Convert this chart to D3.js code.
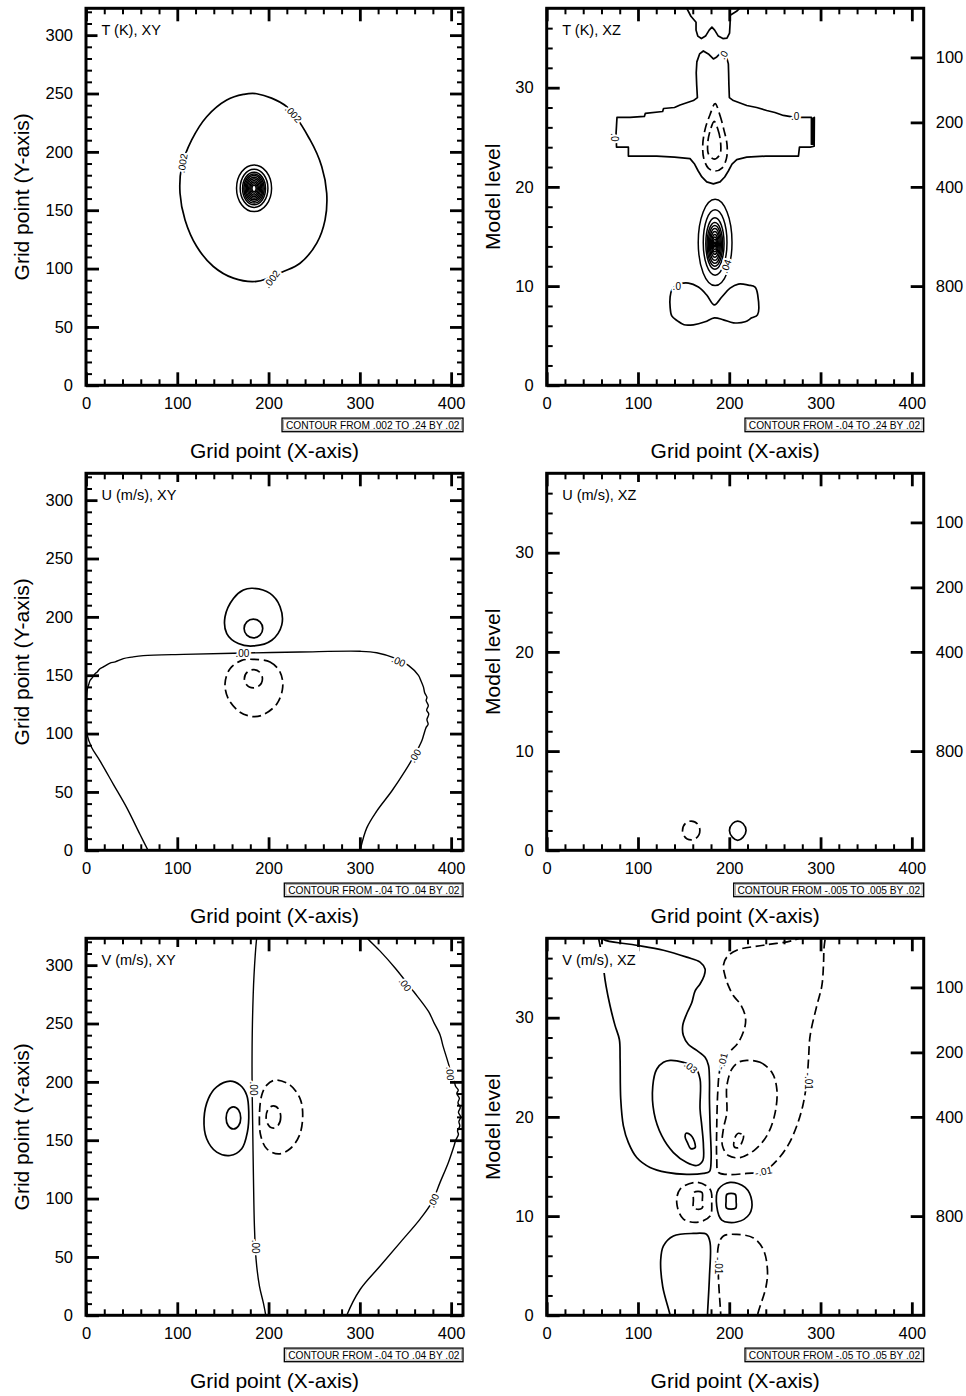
<!DOCTYPE html>
<html>
<head>
<meta charset="utf-8">
<script src="https://cdn.jsdelivr.net/npm/d3@7"></script>
<style>
  body { margin: 0; background: #fff; }
  svg { display: block; }
</style>
</head>
<body>
<svg id="chart" width="966" height="1396"></svg>
<script>
// ---------- axis ticks and labels ----------
const xMajorTicks = [0, 100, 200, 300, 400];
const yMajorTicksXY = [0, 50, 100, 150, 200, 250, 300];
const levelMajorTicks = [0, 10, 20, 30];
const pressureLabels = [100, 200, 400, 800];
const pressureLevels = [33.05, 26.5, 20, 10];

const panelTitles = ["T (K), XY", "T (K), XZ", "U (m/s), XY", "U (m/s), XZ", "V (m/s), XY", "V (m/s), XZ"];
const infoLabels = [
  "CONTOUR FROM .002 TO .24 BY .02",
  "CONTOUR FROM -.04 TO .24 BY .02",
  "CONTOUR FROM -.04 TO .04 BY .02",
  "CONTOUR FROM -.005 TO .005 BY .02",
  "CONTOUR FROM -.04 TO .04 BY .02",
  "CONTOUR FROM -.05 TO .05 BY .02"
];

// ---------- T (K), XY ----------
const tXY_c002 = [[187.0,249.8],[219.9,238.7],[245.5,210.2],[258.3,187.3],[263.7,164.5],[261.9,141.7],[252.8,121.8],[234.5,104.6],[216.3,97.5],[187.0,89.0],[161.5,91.8],[139.5,101.8],[121.3,118.9],[108.5,141.7],[103.0,164.5],[104.8,187.3],[115.8,210.2],[132.2,230.1],[154.2,244.4],[172.4,249.2]];
// [centre x, centre y, radius x, radius y] for .022 ... .222
const tXY_rings = [[184.1,168.8,19.2,20.0],[184.1,168.8,15.2,16.4],[184.1,168.6,12.6,14.0],[184.1,168.6,11.2,12.5],[184.1,168.6,9.9,11.1],[184.1,168.6,8.6,9.7],[184.1,168.6,7.3,8.3],[184.1,168.6,6.0,6.9],[184.1,168.6,4.7,5.5],[184.1,168.6,3.5,4.1],[184.1,168.6,2.3,2.7]];
const tXY_labels = [[227.2,232.4,48,".002"],[105.9,190.2,-80,".002"],[203.5,91.0,-52,".002"]];

// ---------- T (K), XZ ----------
const tXZ_top = [[150,38.6],[158,37.2],[163.6,36.6],[163.6,35.8],[165.5,35.2],[169.5,34.95],[174,35.2],[178,35.8],[181,36.1],[184,35.8],[188,35.2],[193,34.95],[197.5,35.0],[200.3,35.5],[200.9,36.5],[201,37.3],[208,37.7],[217,38.5]];
const tXZ_zero = [[182.6,32.9],[177.1,33.4],[171.6,33.7],[167.5,33.4],[164.5,32.6],[163.8,31.5],[164.3,30.3],[165.1,29.0],[160.7,28.7],[146.1,28.25],[140,28.0],[128,27.9],[127,27.6],[108,27.4],[107,27.1],[91.3,27.0],[77,27.0],[76.5,26.2],[76,25.4],[76.3,24.6],[76.5,24.0],[89.5,24.0],[89.5,23.1],[120.5,23.1],[140,23.0],[157,22.85],[162,22.3],[166,21.6],[170,21.0],[175.3,20.5],[182.6,20.3],[189.9,20.5],[195,21.0],[199,21.6],[203,22.3],[208.2,22.75],[219.2,23.0],[240,23.1],[275.8,23.1],[276.9,24.0],[288.6,24.0],[293,24.1],[293.2,27.0],[291.5,26.9],[291.5,24.3],[290,24.3],[290,27.0],[285,27.0],[272,27.0],[259.3,27.2],[250,27.5],[241,27.7],[230,28.0],[219.2,28.2],[204.5,28.7],[200.1,29.0],[199.6,30.3],[199.3,31.5],[199,32.4],[197,33.1],[195.4,33.5],[191.8,33.6],[188.5,33.3],[186.3,33.1]];
const tXZ_negOuter = [[184.5,28.4],[189.5,27.3],[194,25.8],[197.5,24.3],[197,22.9],[192,21.9],[184.5,21.6],[177,21.9],[172,22.9],[171,24.3],[173.5,25.8],[179,27.3]];
const tXZ_negInner = [[183.5,26.6],[187.5,25.8],[190.5,24.5],[189.8,23.3],[183.5,22.8],[177.3,23.3],[176.5,24.5],[179.5,25.8]];
const tXZ_rings = [[184.5,14.4,18.5,4.35],[184.5,14.4,13.0,3.3],[184.3,14.3,10.0,2.6],[184.2,14.2,8.5,2.2],[184.2,14.2,7.2,1.9],[184.2,14.2,6.0,1.6],[184.2,14.2,4.9,1.3],[184.2,14.2,3.8,1.0],[184.2,14.2,2.8,0.75],[184.2,14.2,1.8,0.5],[184.2,14.2,0.9,0.25]];
const tXZ_lower = [[137,9.6],[142.5,10.1],[155.3,10.3],[166.2,9.9],[175.3,9.1],[183.7,8.1],[191.8,8.9],[200.9,9.8],[210,10.2],[221,10.1],[228.3,9.9],[231.2,9.1],[230.9,7.1],[224.7,6.8],[217.4,6.4],[204.6,6.3],[193.6,6.6],[183.7,6.8],[173.5,6.4],[160.7,6.1],[150.5,6.1],[143.2,6.5],[137,7.0],[135.2,7.9],[135.2,8.9]];
const tXZ_labels = [[193.5,33.3,-60,".0"],[272.1,27.05,0,".0"],[73.8,25.0,90,".0"],[196.5,12.0,-70,".04"],[142.5,10.0,0,".0"]];

// ---------- U (m/s), XY ----------
const uXY_zero = [[69.9,-3],[59.2,13.5],[44.6,36.5],[30,56.5],[15.3,76.6],[6.2,88.1],[1.5,98.2],[0.5,111],[0.6,128.3],[1.5,138.3],[3,142],[4.4,145.5],[7,148],[9.9,151.3],[12,152.5],[15.3,155.6],[20,157.5],[26.3,160.4],[32,161.5],[40.9,164.2],[50,165.5],[62.8,166.8],[106.7,167.9],[161.5,168.8],[234.5,169.9],[300.3,170.5],[318.5,169.3],[336.8,165],[353.2,158.4],[364.2,149.8],[366.5,146],[369.7,139.8],[371,135],[373.5,131],[372.6,128.3],[375,124],[373.2,120],[375.5,116.8],[373.5,112],[374.8,108],[372.6,105.3],[370,99],[367.9,93.9],[360.5,82.4],[349.6,68],[335,50.8],[318.5,33.6],[307.6,19.2],[300.3,0],[299.6,-3]];
const uXY_pos = [[182.3,224.5],[201.6,220.1],[212.6,208.7],[214.4,192.9],[203.5,180.0],[183.4,175.1],[166.9,177.1],[154.2,185.7],[152.3,200.1],[161.5,215.8],[172.4,223.0]];
const uXY_posRings = [[183.4,190.0,10.2,8.0]];
const uXY_neg = [[183.4,163.6],[201.6,161.3],[212.6,152.7],[215.5,139.8],[209.0,125.4],[194.3,116.2],[183.4,114.5],[168.8,118.3],[156.0,129.7],[152.3,142.7],[157.8,155.6],[170.6,162.7]];
const uXY_negRings = [[183.4,147.0,9.9,7.8]];
const uXY_labels = [[171.3,168.5,0,".00"],[342.3,161.9,25,".00"],[360.5,81.0,-58,".00"]];

// ---------- U (m/s), XZ ----------
const uXZ_negRings = [[158.3,2.0,9.5,0.95]];
const uXZ_pos = [[209.3,2.95],[215,2.7],[218.4,2.0],[215,1.3],[209.3,1.01],[203.6,1.3],[200.2,2.0],[203.6,2.7]];

// ---------- V (m/s), XY ----------
const vXY_mid = [[187.6,327],[187,323.5],[184.1,291.9],[182.3,248.9],[181.9,205.8],[182.6,162.7],[183.4,119.7],[184.5,76.6],[186.3,47.9],[190,25],[194.3,10.6],[196.9,0],[197.4,-3]];
const vXY_right = [[304,327],[307.6,323.5],[322.2,312],[338.6,297.6],[358.7,277.6],[375.2,260.3],[381,251],[387.9,240.2],[391,231],[395.3,220.1],[398,213],[400.7,205.8],[403.5,200],[405,196],[407.8,193],[406.2,190],[409,186],[407.5,182],[410,178],[408,174],[410.5,170],[408.5,166],[409.5,162],[407,158],[408,155],[405,150],[403.3,145.5],[397.1,131.2],[387.9,113.9],[378.8,96.7],[366,82.4],[344.1,62.3],[322.2,42.2],[300.3,22.1],[285.7,0],[284.5,-3]];
const vXY_pos = [[157.8,200.6],[168.8,197.2],[176.1,188.6],[178.3,174.2],[176.8,157.0],[170.6,142.7],[157.8,136.9],[143.2,139.8],[132.2,151.3],[129.3,168.5],[134.1,185.7],[143.2,195.7]];
const vXY_posRings = [[161.5,169.1,8.0,9.5]];
const vXY_neg = [[207.1,201.5],[223.6,197.2],[234.5,185.7],[237.4,171.4],[233.8,154.1],[223.6,142.7],[210.8,138.3],[198.0,142.7],[191.4,154.1],[190.0,171.4],[192.5,188.6],[198.0,197.2]];
const vXY_negRings = [[205.3,169.9,8.0,9.5]];
const vXY_labels = [[183.4,194.3,90,".00"],[185.2,58.8,90,".00"],[349.6,283.3,55,".00"],[398.9,207.2,85,".00"],[380.6,98.2,-66,".00"]];

// ---------- V (m/s), XZ ----------
const vXZ_pos01 = [[55,38.8],[58.4,37.3],[61.4,35.9],[62.8,34.6],[65,33.2],[69.4,31.2],[74.9,29.2],[79.6,27.8],[80.4,25.8],[81.1,21.8],[84,19.1],[89.5,17.4],[98.6,15.9],[113.2,14.9],[131.5,14.4],[153.4,14.2],[171.7,14.3],[178.3,14.5],[180.1,15.7],[179,19.1],[178.3,21.8],[178.3,23.8],[177.2,25.2],[173.5,26.0],[164.4,26.7],[155.3,27.3],[149.7,28.2],[149,29.2],[153.4,30.4],[158.9,31.5],[162.6,32.7],[168,33.4],[172.4,34.2],[173.5,34.9],[168,35.6],[153.4,36.1],[127.9,36.8],[91.3,37.4],[62,37.9],[56,38.8]];
const vXZ_pos03 = [[135.2,25.7],[149.8,25.5],[162.6,25.0],[168,23.8],[168,20.8],[169.9,19.1],[171.7,17.1],[171,15.6],[164.4,15.1],[153.4,15.4],[138.8,16.4],[126,18.1],[117.6,20.4],[116.2,23.1],[120.5,24.8],[127.9,25.5]];
const vXZ_pos05 = [[152.7,18.35],[157.8,18.15],[162.6,17.24],[162.6,16.9],[157.8,16.8],[154.2,17.4],[151.6,18.0]];
const vXZ_neg01 = [[295,38.8],[270.3,37.8],[237.4,37.3],[208.2,36.8],[197.3,36.1],[193.6,35.3],[195.4,34.2],[199.1,33.2],[204.6,32.2],[211.9,31.4],[217.4,30.2],[217.4,29.2],[210,27.5],[200.9,26.6],[192.9,25.7],[189.2,24.5],[187.4,22.5],[186.3,19.1],[186.3,15.7],[188.1,14.4],[197.3,14.2],[219.2,14.3],[237.4,14.5],[252.1,15.6],[264.8,17.2],[274,19.1],[280.5,21.1],[284.9,23.5],[286.8,25.8],[288.6,28.2],[295.9,31.2],[301.4,33.2],[303.2,35.3],[303.9,37.1],[306.5,38.8]];
const vXZ_neg03 = [[219.2,25.7],[233.8,25.5],[246.6,24.5],[252.1,22.8],[250.2,20.4],[241.8,18.2],[228.3,16.7],[211.9,15.9],[199.1,16.1],[192.5,17.1],[193.6,18.8],[197.3,20.4],[197.3,23.1],[202.7,24.8],[210,25.5]];
const vXZ_neg05 = [[210,18.35],[215.5,18.1],[213.7,17.4],[210,16.9],[205.3,17.0],[205.3,17.6],[207.5,18.15]];
const vXZ_negMid = [[164.4,13.4],[179,12.7],[180.8,11.3],[179,10.0],[166.2,9.4],[149.8,9.7],[142.5,11.3],[146.1,12.7]];
const vXZ_negMidInner = [[161.5,12.4],[170,12.4],[170.5,11.6],[170.2,10.8],[161.2,10.8],[160.7,11.6]];
const vXZ_posMid = [[200.9,13.4],[217.4,12.9],[224.7,11.5],[222.1,10.2],[208.2,9.4],[191.8,9.6],[186.3,11.0],[188.1,12.7]];
const vXZ_posMidInner = [[197.5,12.2],[206.5,12.2],[207.5,11.5],[207,10.8],[197,10.8],[196.5,11.5]];
const vXZ_posLow = [[135.8,-0.5],[135.2,0],[127.1,2.9],[124.9,5.6],[127.9,7.0],[138.8,8.0],[160.7,8.25],[175.3,8.15],[179,7.3],[178.3,3.9],[176.1,0],[176,-0.5]];
const vXZ_negLow = [[190.8,-0.5],[190.7,0],[188.1,3.9],[188.1,7.0],[193.6,8.0],[208.2,8.15],[226.5,7.8],[237.4,6.6],[241.8,4.6],[240.3,2.9],[230.9,0],[230.6,-0.5]];
const vXZ_labels = [[157.8,25.0,40,".03"],[192.5,25.6,-75,"-.01"],[286.8,23.6,90,"-.01"],[237.4,14.5,-12,"-.01"],[188.1,5.0,90,"-.01"]];

// ---------- layout ----------
const FONT = "'Liberation Sans', Arial, Helvetica, sans-serif";
const frameSize = 377;
const colLeft = [86, 546.7];
const rowTop = [8.3, 473.3, 938.3];
const DASH = "9,4.5";

const x = d3.scaleLinear().domain([0, 413]).range([0, frameSize]);
const yXY = d3.scaleLinear().domain([0, 323]).range([frameSize, 0]);
const yXZ = d3.scaleLinear().domain([0, 38]).range([frameSize, 0]);

const panels = [
  { kind: "xy", col: 0, row: 0,
    lines: [{ pts: tXY_c002, closed: true }],
    rings: [{ data: tXY_rings, dashed: false, width: 1.5 }],
    labels: tXY_labels },
  { kind: "xz", col: 1, row: 0,
    lines: [
      { pts: tXZ_top, closed: false, linear: true },
      { pts: tXZ_zero, closed: true, linear: true },
      { pts: tXZ_negOuter, closed: true, dashed: true },
      { pts: tXZ_negInner, closed: true, dashed: true },
      { pts: tXZ_lower, closed: true }
    ],
    rings: [{ data: tXZ_rings, dashed: false, width: 1.5 }],
    labels: tXZ_labels },
  { kind: "xy", col: 0, row: 1,
    lines: [
      { pts: uXY_zero, closed: false, width: 1.4 },
      { pts: uXY_pos, closed: true },
      { pts: uXY_neg, closed: true, dashed: true }
    ],
    rings: [{ data: uXY_posRings, dashed: false }, { data: uXY_negRings, dashed: true }],
    labels: uXY_labels },
  { kind: "xz", col: 1, row: 1,
    lines: [{ pts: uXZ_pos, closed: true }],
    rings: [{ data: uXZ_negRings, dashed: true }],
    labels: [] },
  { kind: "xy", col: 0, row: 2,
    lines: [
      { pts: vXY_mid, closed: false, width: 1.4 },
      { pts: vXY_right, closed: false, width: 1.4 },
      { pts: vXY_pos, closed: true },
      { pts: vXY_neg, closed: true, dashed: true }
    ],
    rings: [{ data: vXY_posRings, dashed: false }, { data: vXY_negRings, dashed: true }],
    labels: vXY_labels },
  { kind: "xz", col: 1, row: 2,
    lines: [
      { pts: vXZ_pos01, closed: false },
      { pts: vXZ_pos03, closed: true },
      { pts: vXZ_pos05, closed: true },
      { pts: vXZ_neg01, closed: false, dashed: true },
      { pts: vXZ_neg03, closed: true, dashed: true },
      { pts: vXZ_neg05, closed: true, dashed: true },
      { pts: vXZ_negMid, closed: true, dashed: true },
      { pts: vXZ_negMidInner, closed: true, dashed: true },
      { pts: vXZ_posMid, closed: true },
      { pts: vXZ_posMidInner, closed: true },
      { pts: vXZ_posLow, closed: false },
      { pts: vXZ_negLow, closed: false, dashed: true }
    ],
    rings: [],
    labels: vXZ_labels }
];

const svg = d3.select("#chart");
svg.append("rect").attr("width", 966).attr("height", 1396).attr("fill", "#fff");

function styleAxis(g, width) {
  g.attr("font-family", FONT).attr("font-size", 16.5);
  g.select(".domain").remove();
  g.selectAll(".tick line").attr("stroke", "#000").attr("stroke-width", width);
  g.selectAll(".tick text").attr("fill", "#000");
}

panels.forEach((p, i) => {
  const left = colLeft[p.col], top = rowTop[p.row];
  const y = p.kind === "xy" ? yXY : yXZ;
  const g = svg.append("g").attr("transform", `translate(${left},${top})`);

  const clipId = `clip${i}`;
  g.append("clipPath").attr("id", clipId)
    .append("rect").attr("width", frameSize).attr("height", frameSize);

  const plot = g.append("g").attr("clip-path", `url(#${clipId})`);

  // contour lines
  p.lines.forEach(l => {
    const curve = l.linear
      ? (l.closed ? d3.curveLinearClosed : d3.curveLinear)
      : (l.closed ? d3.curveCatmullRomClosed.alpha(0.5) : d3.curveCatmullRom.alpha(0.5));
    const line = d3.line().x(d => x(d[0])).y(d => y(d[1])).curve(curve);
    plot.append("path")
      .attr("d", line(l.pts))
      .attr("fill", "none")
      .attr("stroke", "#000")
      .attr("stroke-width", l.width || 1.7)
      .attr("stroke-linejoin", "round")
      .attr("stroke-dasharray", l.dashed ? DASH : null);
  });

  // concentric closed contours
  p.rings.forEach(set => {
    plot.selectAll(null).data(set.data).enter().append("ellipse")
      .attr("cx", d => x(d[0]))
      .attr("cy", d => y(d[1]))
      .attr("rx", d => x(d[2]) - x(0))
      .attr("ry", d => y(0) - y(d[3]))
      .attr("fill", "none")
      .attr("stroke", "#000")
      .attr("stroke-width", set.width || 1.7)
      .attr("stroke-dasharray", set.dashed ? DASH : null);
  });

  // line labels
  plot.selectAll(null).data(p.labels).enter().append("text")
    .attr("transform", d => `translate(${x(d[0])},${y(d[1])}) rotate(${d[2]})`)
    .attr("text-anchor", "middle")
    .attr("dy", "0.35em")
    .attr("font-family", FONT)
    .attr("font-size", 10)
    .attr("fill", "#000")
    .attr("stroke", "#fff")
    .attr("stroke-width", 4)
    .attr("stroke-linejoin", "round")
    .attr("paint-order", "stroke")
    .text(d => d[3]);

  // axes with inward ticks on all sides
  const xMinor = d3.range(0, 413, 20).filter(v => v % 100 !== 0);
  const major = 13, minor = 6;

  styleAxis(g.append("g").attr("transform", `translate(0,${frameSize})`)
    .call(d3.axisBottom(x).tickValues(xMajorTicks).tickSize(-major).tickPadding(12)), 2.8);
  styleAxis(g.append("g").attr("transform", `translate(0,${frameSize})`)
    .call(d3.axisBottom(x).tickValues(xMinor).tickSize(-minor).tickFormat("")), 2);
  styleAxis(g.append("g")
    .call(d3.axisTop(x).tickValues(xMajorTicks).tickSize(-major).tickFormat("")), 2.8);
  styleAxis(g.append("g")
    .call(d3.axisTop(x).tickValues(xMinor).tickSize(-minor).tickFormat("")), 2);

  if (p.kind === "xy") {
    const yMinor = d3.range(0, 323, 10).filter(v => v % 50 !== 0);
    styleAxis(g.append("g")
      .call(d3.axisLeft(y).tickValues(yMajorTicksXY).tickSize(-major).tickPadding(13)), 2.8);
    styleAxis(g.append("g")
      .call(d3.axisLeft(y).tickValues(yMinor).tickSize(-minor).tickFormat("")), 2);
    styleAxis(g.append("g").attr("transform", `translate(${frameSize},0)`)
      .call(d3.axisRight(y).tickValues(yMajorTicksXY).tickSize(-major).tickFormat("")), 2.8);
    styleAxis(g.append("g").attr("transform", `translate(${frameSize},0)`)
      .call(d3.axisRight(y).tickValues(yMinor).tickSize(-minor).tickFormat("")), 2);
  } else {
    const yMinor = d3.range(0, 38, 2).filter(v => v % 10 !== 0);
    styleAxis(g.append("g")
      .call(d3.axisLeft(y).tickValues(levelMajorTicks).tickSize(-major).tickPadding(13)), 2.8);
    styleAxis(g.append("g")
      .call(d3.axisLeft(y).tickValues(yMinor).tickSize(-minor).tickFormat("")), 2);
    styleAxis(g.append("g").attr("transform", `translate(${frameSize},0)`)
      .call(d3.axisRight(y).tickValues(pressureLevels).tickSize(-major)
        .tickPadding(12).tickFormat((d, k) => pressureLabels[k])), 2.8);
  }

  // frame
  g.append("rect").attr("width", frameSize).attr("height", frameSize)
    .attr("fill", "none").attr("stroke", "#000").attr("stroke-width", 3);

  // panel title on a white box
  const titleG = g.append("g");
  const tbox = titleG.append("rect").attr("fill", "#fff");
  const title = titleG.append("text")
    .attr("x", 15.5).attr("y", 26.7)
    .attr("font-family", FONT).attr("font-size", 14.5).attr("fill", "#000")
    .text(panelTitles[i]);
  const tb = title.node().getBBox();
  tbox.attr("x", tb.x - 4).attr("y", tb.y - 5).attr("width", tb.width + 8).attr("height", tb.height + 10);

  // info label
  const infoG = g.append("g");
  const infoText = infoG.append("text")
    .attr("font-family", FONT).attr("font-size", 10.2).attr("fill", "#000")
    .attr("text-anchor", "end")
    .attr("x", frameSize - 3.5).attr("y", frameSize + 43.6)
    .text(infoLabels[i]);
  const ib = infoText.node().getBBox();
  const bw = ib.width + 7;
  infoG.insert("rect", "text")
    .attr("x", frameSize - bw).attr("y", frameSize + 32.8)
    .attr("width", bw).attr("height", 13.6)
    .attr("fill", "#fff").attr("stroke", "#000").attr("stroke-width", 1.3);
  infoG.insert("rect", "text")
    .attr("x", frameSize - bw + 1.6).attr("y", frameSize + 34.4)
    .attr("width", bw - 3.2).attr("height", 10.4)
    .attr("fill", "none").attr("stroke", "#777").attr("stroke-width", 0.6);

  // axis titles
  g.append("text")
    .attr("x", frameSize / 2).attr("y", frameSize + 72.5)
    .attr("text-anchor", "middle")
    .attr("font-family", FONT).attr("font-size", 21).attr("fill", "#000")
    .text("Grid point (X-axis)");
  g.append("text")
    .attr("transform", `translate(${p.kind === "xy" ? -57.4 : -46.7},${frameSize / 2}) rotate(-90)`)
    .attr("text-anchor", "middle")
    .attr("font-family", FONT).attr("font-size", 21).attr("fill", "#000")
    .text(p.kind === "xy" ? "Grid point (Y-axis)" : "Model level");
});
</script>
</body>
</html>
